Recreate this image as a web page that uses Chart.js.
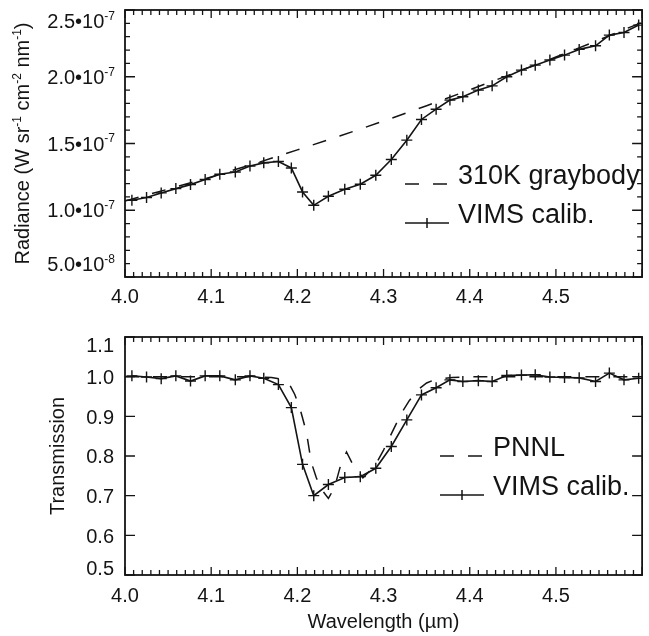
<!DOCTYPE html>
<html>
<head>
<meta charset="utf-8">
<script src="https://cdn.jsdelivr.net/npm/chart.js@4.4.0/dist/chart.umd.min.js"></script>
<style>
  html, body { margin: 0; padding: 0; background: #fff; }
  #wrap { position: relative; width: 649px; height: 636px; }
  .panel { position: absolute; left: 0; width: 649px; }
</style>
</head>
<body>
<div id="wrap">
  <div class="panel" style="top:0;height:320px"><canvas id="radiance"></canvas></div>
  <div class="panel" style="top:320px;height:316px"><canvas id="transmission"></canvas></div>
</div>
<script>
// VIMS channel wavelengths (um), shared by both panels
const wavelength = [4.008, 4.025, 4.042, 4.059, 4.076, 4.093, 4.110, 4.128, 4.145, 4.161,
  4.178, 4.193, 4.206, 4.219, 4.236, 4.255, 4.273, 4.291, 4.309, 4.327,
  4.344, 4.361, 4.377, 4.392, 4.410, 4.426, 4.443, 4.460, 4.476, 4.493,
  4.510, 4.527, 4.546, 4.562, 4.579, 4.596];

// radiance, W sr-1 cm-2 nm-1
const vimsRadiance = [1.075e-7, 1.095e-7, 1.13e-7, 1.162e-7, 1.192e-7, 1.23e-7, 1.27e-7, 1.287e-7, 1.332e-7, 1.355e-7,
  1.365e-7, 1.317e-7, 1.137e-7, 1.037e-7, 1.105e-7, 1.157e-7, 1.195e-7, 1.262e-7, 1.38e-7, 1.525e-7,
  1.68e-7, 1.757e-7, 1.825e-7, 1.85e-7, 1.90e-7, 1.932e-7, 2.0e-7, 2.05e-7, 2.087e-7, 2.125e-7,
  2.162e-7, 2.205e-7, 2.232e-7, 2.312e-7, 2.332e-7, 2.387e-7];

const graybodyWavelength = [4.00, 4.05, 4.10, 4.15, 4.20, 4.25, 4.30, 4.35, 4.40, 4.45, 4.50, 4.55, 4.60];
const graybodyRadiance = [1.07e-7, 1.158e-7, 1.25e-7, 1.348e-7, 1.452e-7, 1.558e-7, 1.668e-7, 1.783e-7,
  1.902e-7, 2.024e-7, 2.148e-7, 2.276e-7, 2.408e-7];

const vimsTransmission = [1.002, 0.999, 0.995, 1.002, 0.989, 1.002, 1.002, 0.992, 1.002, 0.996,
  0.98, 0.922, 0.779, 0.70, 0.728, 0.746, 0.748, 0.769, 0.824, 0.891,
  0.954, 0.972, 0.992, 0.988, 0.990, 0.988, 1.003, 1.004, 1.005, 0.999,
  0.998, 0.997, 0.988, 1.009, 0.992, 0.996];

const pnnlWavelength = [4.00, 4.05, 4.10, 4.15, 4.17, 4.18, 4.19, 4.197, 4.203, 4.208,
  4.212, 4.216, 4.222, 4.23, 4.236, 4.243, 4.25, 4.257, 4.264, 4.276,
  4.29, 4.30, 4.31, 4.32, 4.33, 4.34, 4.35, 4.36, 4.38, 4.40,
  4.45, 4.50, 4.55, 4.60];
const pnnlTransmission = [1.0, 1.0, 1.0, 1.0, 0.998, 0.994, 0.984, 0.955, 0.92, 0.88,
  0.84, 0.785, 0.745, 0.71, 0.693, 0.72, 0.775, 0.81, 0.78, 0.745,
  0.775, 0.815, 0.86, 0.905, 0.94, 0.967, 0.984, 0.993, 0.998, 1.0,
  1.0, 1.0, 1.0, 1.0];

const xTicks = [4.0, 4.1, 4.2, 4.3, 4.4, 4.5];
const radianceTicks = [5e-8, 1e-7, 1.5e-7, 2e-7, 2.5e-7];
const transmissionTicks = [0.5, 0.6, 0.7, 0.8, 0.9, 1.0, 1.1];

const ink = '#141414';
const family = '"Liberation Sans", Arial, Helvetica, sans-serif';

const pairs = (xs, ys) => xs.map((x, i) => ({ x: x, y: ys[i] }));

// text with superscripts: parts = [[text, isSup], ...]
function richWidth(ctx, parts, size) {
  let w = 0;
  parts.forEach(p => {
    ctx.font = (p[1] ? Math.round(size * 0.62) : size) + 'px ' + family;
    w += ctx.measureText(p[0]).width;
  });
  return w;
}
function drawRich(ctx, parts, x, baseY, size) {
  parts.forEach(p => {
    ctx.font = (p[1] ? Math.round(size * 0.62) : size) + 'px ' + family;
    ctx.fillText(p[0], x, p[1] ? baseY - size * 0.42 : baseY);
    x += ctx.measureText(p[0]).width;
  });
}

const frame = {
  id: 'frame',
  afterDatasetsDraw(chart, args, o) {
    const { ctx, chartArea: a, scales: { x, y } } = chart;
    ctx.save();
    ctx.strokeStyle = ink;
    ctx.lineWidth = 1.3;
    ctx.beginPath();
    for (let i = 0; i <= o.xSteps; i++) {
      const px = x.getPixelForValue(x.min + (x.max - x.min) * i / o.xSteps);
      const len = i % o.xEvery === 0 ? 8 : 5;
      ctx.moveTo(px, a.bottom); ctx.lineTo(px, a.bottom - len);
      ctx.moveTo(px, a.top); ctx.lineTo(px, a.top + len);
    }
    for (let i = 0; i <= o.ySteps; i++) {
      const py = y.getPixelForValue(y.min + (y.max - y.min) * i / o.ySteps);
      const len = i % o.yEvery === 0 ? 10 : 5;
      ctx.moveTo(a.left, py); ctx.lineTo(a.left + len, py);
      ctx.moveTo(a.right, py); ctx.lineTo(a.right - len, py);
    }
    ctx.stroke();
    ctx.lineWidth = 1.8;
    ctx.strokeRect(a.left, a.top, a.right - a.left, a.bottom - a.top);
    ctx.restore();
  },
  afterDraw(chart, args, o) {
    const { ctx, chartArea: a, scales: { y } } = chart;
    ctx.save();
    ctx.fillStyle = ink;
    ctx.textBaseline = 'alphabetic';
    // y tick labels, nudged inside at the ends
    y.ticks.forEach(t => {
      let cy = y.getPixelForValue(t.value);
      cy = Math.min(Math.max(cy, a.top + o.inset[0]), a.bottom - o.inset[1]);
      const parts = o.format(t.value);
      const w = richWidth(ctx, parts, o.tickSize);
      drawRich(ctx, parts, a.left - o.tickPad - w, cy + o.tickSize * 0.36, o.tickSize);
    });
    // y title, rotated
    const cy = (a.top + a.bottom) / 2;
    ctx.translate(o.yTitleX, cy);
    ctx.rotate(-Math.PI / 2);
    const tw = richWidth(ctx, o.yTitle, o.titleSize);
    drawRich(ctx, o.yTitle, -tw / 2, o.titleSize * 0.36, o.titleSize);
    ctx.setTransform(1, 0, 0, 1, 0, 0);
    if (o.xTitle) {
      ctx.font = o.titleSize + 'px ' + family;
      ctx.textAlign = 'center';
      ctx.fillText(o.xTitle, (a.left + a.right) / 2, o.xTitleY);
    }
    // legend
    const L = o.legend;
    L.order.forEach((idx, k) => {
      const ds = chart.data.datasets[idx];
      const by = L.y + k * L.gap;
      ctx.strokeStyle = ink;
      ctx.lineWidth = 1.5;
      ctx.setLineDash(ds.borderDash || []);
      ctx.beginPath();
      ctx.moveTo(L.x, by); ctx.lineTo(L.x + 44, by);
      ctx.stroke();
      ctx.setLineDash([]);
      if (ds.pointRadius) {
        ctx.beginPath();
        ctx.moveTo(L.x + 22, by - 5); ctx.lineTo(L.x + 22, by + 5);
        ctx.stroke();
      }
      ctx.font = L.size + 'px ' + family;
      ctx.textAlign = 'left';
      ctx.fillText(ds.label, L.x + 53, by);
    });
    ctx.restore();
  }
};

function xAxis(height, pad) {
  return {
    type: 'linear', min: 4.0, max: 4.6,
    afterBuildTicks: s => { s.ticks = xTicks.map(v => ({ value: v })); },
    afterFit: s => { s.height = height; },
    grid: { display: false, drawTicks: false },
    border: { display: false },
    ticks: { autoSkip: false, maxRotation: 0, padding: pad, color: ink,
      font: { family: family, size: 20 }, callback: v => v.toFixed(1) }
  };
}
function yAxis(min, max, ticks) {
  return {
    type: 'linear', min: min, max: max,
    afterBuildTicks: s => { s.ticks = ticks.map(v => ({ value: v })); },
    afterFit: s => { s.width = 125; },
    grid: { display: false, drawTicks: false },
    border: { display: false },
    ticks: { display: false }
  };
}

const vimsStyle = {
  label: 'VIMS calib.',
  borderColor: ink, borderWidth: 1.6,
  pointStyle: 'cross', pointRadius: 5.5, pointBorderWidth: 1.4,
  pointBorderColor: ink, pointHoverRadius: 5.5, tension: 0, fill: false
};

new Chart(document.getElementById('radiance'), {
  type: 'line',
  data: {
    datasets: [
      Object.assign({ data: pairs(wavelength, vimsRadiance) }, vimsStyle),
      { label: '310K graybody', data: pairs(graybodyWavelength, graybodyRadiance),
        borderColor: ink, borderWidth: 1.5, borderDash: [14, 14], pointRadius: 0, tension: 0, fill: false }
    ]
  },
  options: {
    responsive: true, maintainAspectRatio: false, animation: false,
    layout: { padding: { top: 10, right: 1, left: 0, bottom: 0 } },
    scales: { x: xAxis(43, 8), y: yAxis(5e-8, 2.5e-7, radianceTicks) },
    plugins: {
      legend: { display: false }, tooltip: { enabled: false },
      frame: {
        xSteps: 60, xEvery: 10, ySteps: 20, yEvery: 5,
        tickSize: 20, tickPad: 10, inset: [11, 13], titleSize: 20,
        format: v => {
          const e = Math.floor(Math.log10(v) + 1e-9);
          return [[(v / Math.pow(10, e)).toFixed(1) + '\u202210', false], [String(e), true]];
        },
        yTitleX: 22,
        yTitle: [['Radiance (W sr', false], ['-1', true], [' cm', false], ['-2', true], [' nm', false], ['-1', true], [')', false]],
        legend: { order: [1, 0], x: 405, y: 184, gap: 39, size: 27 }
      }
    }
  },
  plugins: [frame]
});

new Chart(document.getElementById('transmission'), {
  type: 'line',
  data: {
    datasets: [
      Object.assign({ data: pairs(wavelength, vimsTransmission) }, vimsStyle),
      { label: 'PNNL', data: pairs(pnnlWavelength, pnnlTransmission),
        borderColor: ink, borderWidth: 1.5, borderDash: [14, 14], pointRadius: 0, tension: 0, fill: false }
    ]
  },
  options: {
    responsive: true, maintainAspectRatio: false, animation: false,
    layout: { padding: { top: 17, right: 1, left: 0, bottom: 0 } },
    scales: { x: xAxis(61, 9), y: yAxis(0.5, 1.1, transmissionTicks) },
    plugins: {
      legend: { display: false }, tooltip: { enabled: false },
      frame: {
        xSteps: 60, xEvery: 10, ySteps: 6, yEvery: 1,
        tickSize: 20, tickPad: 11, inset: [8, 7], titleSize: 20,
        format: v => [[v.toFixed(1), false]],
        yTitleX: 57,
        yTitle: [['Transmission', false]],
        xTitle: 'Wavelength (\u00b5m)', xTitleY: 308,
        legend: { order: [1, 0], x: 440, y: 136, gap: 39, size: 27 }
      }
    }
  },
  plugins: [frame]
});
</script>
</body>
</html>
